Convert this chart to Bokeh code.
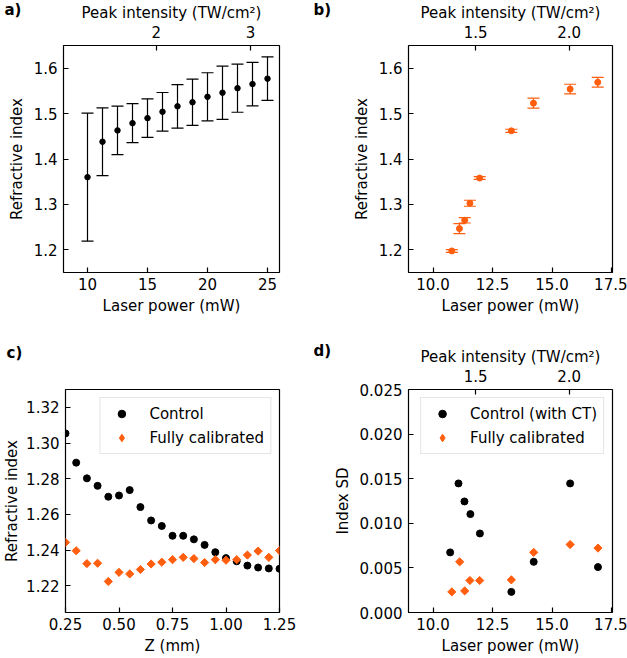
import numpy as np
from bokeh.plotting import figure
from bokeh.models import (ColumnDataSource, Whisker, TeeHead, Range1d, LinearAxis,
                          FixedTicker, NumeralTickFormatter)
from bokeh.layouts import row, column
from bokeh.embed import file_html
from bokeh.resources import INLINE

# ---------------- data ----------------
# a) refractive index vs laser power (mean +/- spread)
a_power = [10, 11.25, 12.5, 13.75, 15, 16.25, 17.5, 18.75, 20, 21.25, 22.5, 23.75, 25]
a_index = [1.360, 1.438, 1.463, 1.479, 1.490, 1.504, 1.516, 1.525, 1.537, 1.546, 1.556, 1.565, 1.577]
a_err = [0.141, 0.0745, 0.0535, 0.043, 0.0425, 0.0425, 0.048, 0.051, 0.053, 0.0585, 0.053, 0.048, 0.048]

# b) calibrated refractive index vs laser power
b_power = [10.79, 11.11, 11.33, 11.55, 11.96, 13.29, 14.22, 15.76, 16.92]
b_index = [1.1975, 1.2467, 1.265, 1.3025, 1.358, 1.462, 1.523, 1.554, 1.569]
b_err = [0.003, 0.011, 0.006, 0.0066, 0.003, 0.0035, 0.011, 0.0106, 0.0106]

# c) refractive index vs depth
c_z = [0.25, 0.30, 0.35, 0.40, 0.45, 0.50, 0.55, 0.60, 0.65, 0.70, 0.75,
       0.80, 0.85, 0.90, 0.95, 1.00, 1.05, 1.10, 1.15, 1.20, 1.25]
c_control = [1.3054, 1.2890, 1.2802, 1.2760, 1.2699, 1.2706, 1.2736, 1.2641, 1.2566, 1.2535, 1.2480,
             1.2480, 1.2460, 1.2429, 1.2388, 1.2355, 1.2337, 1.2313, 1.2302, 1.2297, 1.2295]
c_calib = [1.2443, 1.2396, 1.2324, 1.2326, 1.2224, 1.2275, 1.2266, 1.2291, 1.2322, 1.2332, 1.2346,
           1.2359, 1.2352, 1.2330, 1.2346, 1.2343, 1.2346, 1.2372, 1.2394, 1.2359, 1.2397]

# d) index standard deviation vs laser power
d_power_ctrl = [10.72, 11.07, 11.32, 11.57, 11.97, 13.29, 14.23, 15.76, 16.93]
d_sd_ctrl = [0.00674, 0.01447, 0.01245, 0.01103, 0.00886, 0.00231, 0.00568, 0.01447, 0.00509]
d_power_cal = [10.79, 11.12, 11.33, 11.55, 11.96, 13.29, 14.23, 15.76, 16.93]
d_sd_cal = [0.00231, 0.00568, 0.00242, 0.00359, 0.00359, 0.00366, 0.00674, 0.00762, 0.00722]

# peak intensity conversion (TW/cm^2 per mW)
K_INT = 0.1272

# axis ticks
a_xticks = [10, 15, 20, 25]
a_topticks = [2, 3]
ab_yticks = [1.2, 1.3, 1.4, 1.5, 1.6]
bd_xticks = [10.0, 12.5, 15.0, 17.5]
bd_topticks = [1.5, 2.0]
c_xticks = [0.25, 0.50, 0.75, 1.00, 1.25]
c_yticks = [1.22, 1.24, 1.26, 1.28, 1.30, 1.32]
d_yticks = [0.0, 0.005, 0.010, 0.015, 0.020, 0.025]

FONT = "DejaVu Sans"
ORANGE = "#ff5e0e"
FS = "15px"


def make_fig(xr, yr, w, h, bl, br, bt, bb):
    p = figure(x_range=Range1d(*xr), y_range=Range1d(*yr), width=w, height=h,
               min_border_left=bl, min_border_right=br, min_border_top=bt, min_border_bottom=bb,
               output_backend="svg", toolbar_location=None)
    p.xgrid.visible = False
    p.ygrid.visible = False
    p.outline_line_color = "black"
    p.outline_line_width = 1.2
    p.outline_line_alpha = 1.0
    p.background_fill_color = "white"
    p.border_fill_color = "white"
    return p


def style_axis(ax, ticks, fmt, label, tick_standoff, label_standoff):
    ax.ticker = FixedTicker(ticks=ticks)
    ax.formatter = NumeralTickFormatter(format=fmt)
    ax.axis_label = label
    ax.axis_label_text_font = FONT
    ax.axis_label_text_font_size = FS
    ax.axis_label_text_font_style = "normal"
    ax.axis_label_text_color = "black"
    ax.major_label_text_font = FONT
    ax.major_label_text_font_size = FS
    ax.major_label_text_color = "black"
    ax.axis_line_color = None
    ax.major_tick_in = 5
    ax.major_tick_out = 0
    ax.major_tick_line_color = "black"
    ax.major_tick_line_width = 1.2
    ax.minor_tick_line_color = None
    ax.major_label_standoff = tick_standoff
    ax.axis_label_standoff = label_standoff


def add_top_axis(p, xr, ticks, fmt):
    p.extra_x_ranges = {"intensity": Range1d(K_INT * xr[0], K_INT * xr[1])}
    top = LinearAxis(x_range_name="intensity")
    p.add_layout(top, "above")
    style_axis(top, ticks, fmt, "Peak intensity (TW/cm²)", 8, 1)


def panel_label(p, text, dx, standoff, valign):
    # the plot title carries the panel letter, shifted left of the frame
    t = p.title
    t.text = text
    t.align = "left"
    t.offset = -dx
    t.standoff = standoff
    t.vertical_align = valign
    t.text_font = FONT
    t.text_font_style = "bold"
    t.text_font_size = "15px"
    t.text_color = "black"


def style_legend(p):
    lg = p.legend[0]
    lg.location = "top_right"
    lg.margin = 8
    lg.padding = 6
    lg.spacing = 5
    lg.glyph_width = 30
    lg.glyph_height = 19
    lg.label_height = 18
    lg.label_standoff = 13
    lg.label_text_font = FONT
    lg.label_text_font_size = FS
    lg.label_text_color = "black"
    lg.border_line_color = "#cccccc"
    lg.border_line_width = 1
    lg.background_fill_alpha = 0.8


# layout geometry (canvas sizes)
W_L, W_R = 314, 313
H_TOP, H_BOT = 317, 340

# ---------------- panel a ----------------
a_xr, ab_yr = (8, 26), (1.15, 1.65)
pa = make_fig(a_xr, ab_yr, W_L, H_TOP, 63, 35, 45, 45)
src_a = ColumnDataSource(dict(x=a_power, y=a_index,
                              lo=[v - e for v, e in zip(a_index, a_err)],
                              hi=[v + e for v, e in zip(a_index, a_err)]))
pa.add_layout(Whisker(base="x", lower="lo", upper="hi", source=src_a, line_color="black",
                      line_width=1.2,
                      upper_head=TeeHead(size=12, line_color="black", line_width=1.2),
                      lower_head=TeeHead(size=12, line_color="black", line_width=1.2)))
pa.scatter("x", "y", source=src_a, size=5.5, color="black")
style_axis(pa.xaxis[0], a_xticks, "0", "Laser power (mW)", 5, 4)
style_axis(pa.yaxis[0], ab_yticks, "0.0", "Refractive index", 6, 5)
add_top_axis(pa, a_xr, a_topticks, "0")
panel_label(pa, "a)", 59, -36, "bottom")

# ---------------- panel b ----------------
bd_xr = (8.97, 17.54)
pb = make_fig(bd_xr, ab_yr, W_R, H_TOP, 94, 15, 45, 45)
src_b = ColumnDataSource(dict(x=b_power, y=b_index,
                              lo=[v - e for v, e in zip(b_index, b_err)],
                              hi=[v + e for v, e in zip(b_index, b_err)]))
pb.add_layout(Whisker(base="x", lower="lo", upper="hi", source=src_b, line_color=ORANGE,
                      line_width=1.2,
                      upper_head=TeeHead(size=12, line_color=ORANGE, line_width=1.2),
                      lower_head=TeeHead(size=12, line_color=ORANGE, line_width=1.2)))
pb.scatter("x", "y", source=src_b, size=6, color=ORANGE)
style_axis(pb.xaxis[0], bd_xticks, "0.0", "Laser power (mW)", 5, 4)
style_axis(pb.yaxis[0], ab_yticks, "0.0", "Refractive index", 6, 5)
add_top_axis(pb, bd_xr, bd_topticks, "0.0")
panel_label(pb, "b)", 95, -36, "bottom")

# ---------------- panel c ----------------
c_xr, c_yr = (0.25, 1.25), (1.205, 1.33)
pc = make_fig(c_xr, c_yr, W_L, H_BOT, 63, 35, 70, 44)
pc.scatter(c_z, c_control, size=7, color="black", legend_label="Control")
pc.scatter(c_z, c_calib, marker="square", angle=np.pi / 4, size=5.8, color=ORANGE)
pc.scatter(x=[np.nan], y=[np.nan], marker="diamond", size=8, color=ORANGE,
           legend_label="Fully calibrated")
style_axis(pc.xaxis[0], c_xticks, "0.00", "Z (mm)", 5, 4)
style_axis(pc.yaxis[0], c_yticks, "0.00", "Refractive index", 6, 2)
style_legend(pc)
panel_label(pc, "c)", 59, 52, "top")

# ---------------- panel d ----------------
d_yr = (0.0, 0.025)
pd_ = make_fig(bd_xr, d_yr, W_R, H_BOT, 94, 15, 70, 44)
pd_.scatter(d_power_ctrl, d_sd_ctrl, size=7, color="black", legend_label="Control (with CT)")
pd_.scatter(d_power_cal, d_sd_cal, marker="square", angle=np.pi / 4, size=5.8, color=ORANGE)
pd_.scatter(x=[np.nan], y=[np.nan], marker="diamond", size=8, color=ORANGE,
            legend_label="Fully calibrated")
style_axis(pd_.xaxis[0], bd_xticks, "0.0", "Laser power (mW)", 5, 4)
style_axis(pd_.yaxis[0], d_yticks, "0.000", "Index SD", 6, 5)
add_top_axis(pd_, bd_xr, bd_topticks, "0.0")
style_legend(pd_)
panel_label(pd_, "d)", 95, -30, "bottom")

layout = column(row(pa, pb), row(pc, pd_))
open("out.html", "w").write(file_html(layout, INLINE))
